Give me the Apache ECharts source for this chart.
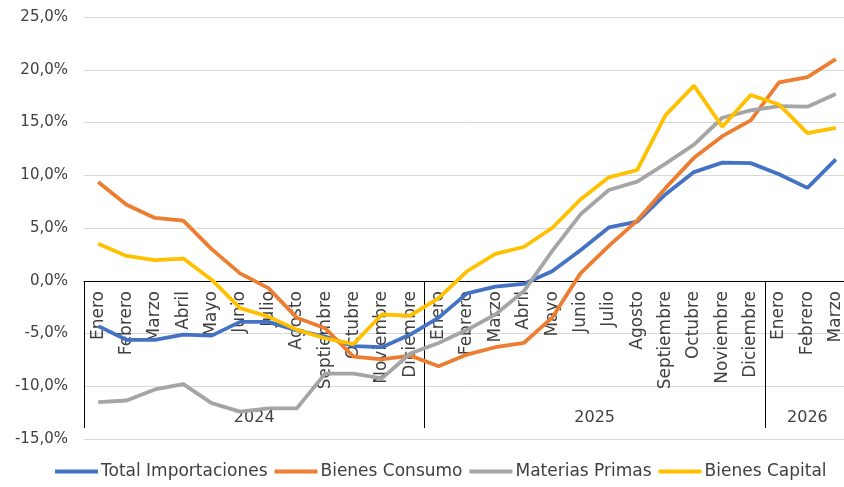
<!DOCTYPE html>
<html>
<head>
<meta charset="utf-8">
<script src="https://cdn.jsdelivr.net/npm/echarts@6/dist/echarts.min.js"></script>
<style>
  html, body { margin: 0; padding: 0; background: #fff; }
  #chart { width: 844px; height: 487px; }
</style>
</head>
<body>
<div id="chart"></div>
<script>
// meses por año (2024 y 2025 completos, 2026 hasta marzo)
const months = [
  "Enero", "Febrero", "Marzo", "Abril", "Mayo", "Junio", "Julio", "Agosto", "Septiembre", "Octubre", "Noviembre", "Diciembre",
  "Enero", "Febrero", "Marzo", "Abril", "Mayo", "Junio", "Julio", "Agosto", "Septiembre", "Octubre", "Noviembre", "Diciembre",
  "Enero", "Febrero", "Marzo"
];
const years = ["2024", "2025", "2026"];
const yearCenters = [5.5, 17.5, 25];
const yearBounds = [-0.5, 11.5, 23.5, 26.5];

const totalImportaciones = [
  -4.3, -5.6, -5.6, -5.1, -5.2, -3.9, -3.9, -4.7, -5.3, -6.2, -6.3, -5.1,
  -3.5, -1.2, -0.55, -0.3, 0.9, 2.9, 5.05, 5.6, 8.2, 10.3, 11.2, 11.15,
  10.1, 8.8, 11.5
];
const bienesConsumo = [
  9.35, 7.2, 5.95, 5.7, 3.0, 0.7, -0.7, -3.5, -4.5, -7.2, -7.45, -7.1,
  -8.1, -7.0, -6.3, -5.9, -3.5, 0.7, 3.3, 5.7, 8.8, 11.65, 13.7, 15.2,
  18.8, 19.3, 21.0
];
const materiasPrimas = [
  -11.5, -11.35, -10.3, -9.8, -11.6, -12.4, -12.1, -12.1, -8.8, -8.8, -9.25, -6.9,
  -5.9, -4.65, -3.2, -1.0, 2.8, 6.3, 8.6, 9.4, 11.1, 12.9, 15.45, 16.15,
  16.55, 16.5, 17.7
];
const bienesCapital = [
  3.5, 2.35, 1.95, 2.1, 0.1, -2.6, -3.4, -4.65, -5.45, -6.0, -3.2, -3.3,
  -1.65, 0.9, 2.55, 3.2, 5.0, 7.7, 9.8, 10.5, 15.7, 18.5, 14.6, 17.6,
  16.7, 14.0, 14.5
];

const font = "DejaVu Sans";
const chart = echarts.init(document.getElementById("chart"));

function lineSerie(name, data, color) {
  return {
    name: name,
    type: "line",
    data: data,
    showSymbol: false,
    symbol: "none",
    z: 5,
    lineStyle: { color: color, width: 3.8 },
    itemStyle: { color: color },
    animation: false
  };
}

chart.setOption({
  animation: false,
  grid: { left: 84, right: -6, top: 17, bottom: 48, outerBoundsMode: "none", containLabel: false },
  legend: {
    bottom: 2,
    left: 50,
    itemWidth: 43,
    itemHeight: 4,
    itemGap: 7,
    textStyle: { fontFamily: font, fontSize: 17, color: "#404040", padding: [0, 0, 0, -2] },
    icon: "rect",
    data: ["Total Importaciones", "Bienes Consumo", "Materias Primas", "Bienes Capital"]
  },
  xAxis: [
    {
      // meses, a la altura del cero
      type: "category",
      data: months,
      boundaryGap: true,
      position: "bottom",
      offset: -158,
      axisLine: { onZero: false, lineStyle: { color: "#000", width: 1 } },
      axisTick: { show: false },
      axisLabel: {
        rotate: 90,
        interval: 0,
        margin: 10,
        fontFamily: font,
        fontSize: 17,
        color: "#404040"
      },
      splitLine: { show: false }
    },
    {
      // años
      type: "value",
      position: "bottom",
      min: -0.5,
      max: 26.5,
      offset: -31,
      axisLine: { show: false },
      axisTick: { show: false },
      splitLine: { show: false },
      axisLabel: {
        customValues: yearCenters,
        margin: 2,
        fontFamily: font,
        fontSize: 16,
        color: "#404040",
        formatter: (v) => years[yearCenters.indexOf(v)] || ""
      }
    },
    {
      // separadores entre años
      type: "value",
      position: "bottom",
      min: -0.5,
      max: 26.5,
      offset: -11,
      axisLine: { show: false },
      axisLabel: { show: false },
      splitLine: { show: false },
      axisTick: {
        show: true,
        inside: true,
        length: 147,
        customValues: yearBounds,
        lineStyle: { color: "#000", width: 1 }
      }
    }
  ],
  yAxis: {
    type: "value",
    min: -15,
    max: 25,
    interval: 5,
    axisLine: { show: false },
    axisTick: { show: false },
    splitLine: { lineStyle: { color: "#d9d9d9", width: 1 } },
    axisLabel: {
      margin: 16,
      fontFamily: font,
      fontSize: 15,
      color: "#404040",
      formatter: (v) => v.toFixed(1).replace(".", ",") + "%"
    }
  },
  series: [
    lineSerie("Total Importaciones", totalImportaciones, "#4472C4"),
    lineSerie("Bienes Consumo", bienesConsumo, "#ED7D31"),
    lineSerie("Materias Primas", materiasPrimas, "#A5A5A5"),
    lineSerie("Bienes Capital", bienesCapital, "#FFC000")
  ]
});
</script>
</body>
</html>
